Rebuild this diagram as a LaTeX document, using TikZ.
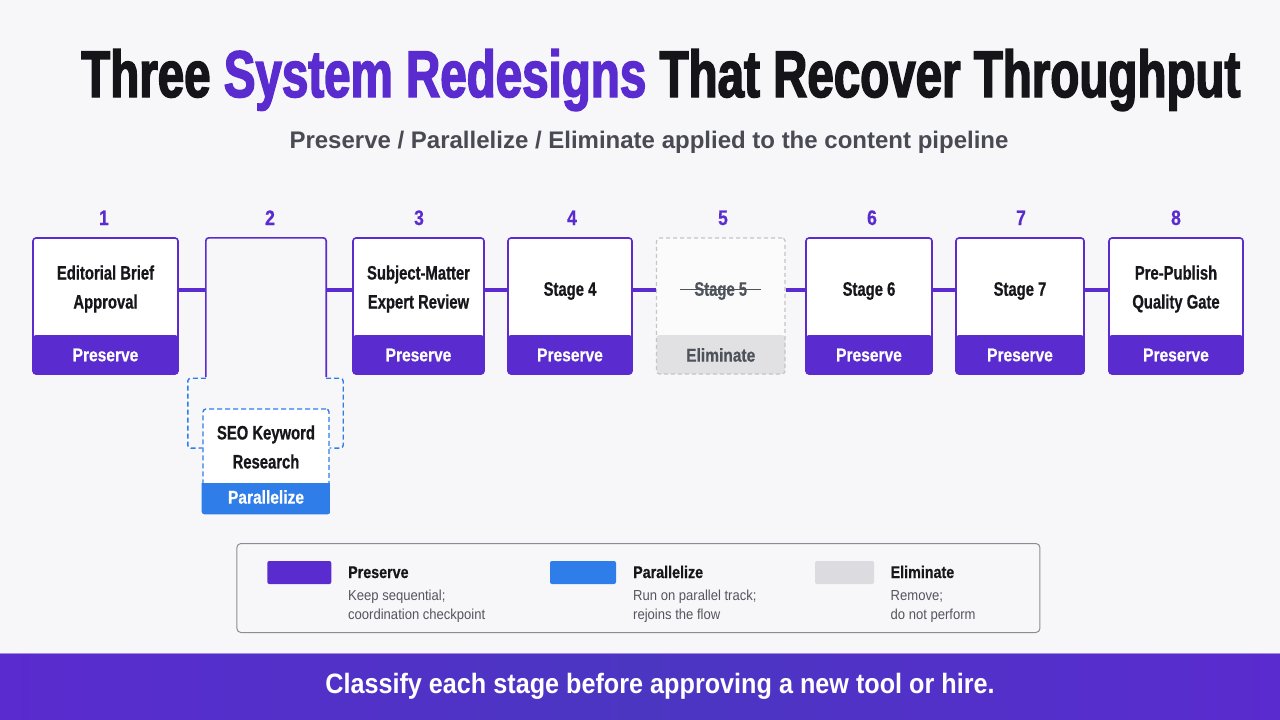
\documentclass[tikz,border=0pt]{standalone}
\usepackage{fontspec}
\setmainfont{Liberation Sans}
\newfontfamily\fT[FakeStretch=0.72,FakeBold=2.2]{Liberation Sans}
\newfontfamily\fB[FakeStretch=0.76,FakeBold=0.6]{Liberation Sans}
\newfontfamily\fC[FakeStretch=0.84,FakeBold=0.5]{Liberation Sans}
\newfontfamily\fD[FakeStretch=0.9]{Liberation Sans}
\definecolor{bg}{HTML}{F7F7F9}
\definecolor{purpleC}{HTML}{5A2BCF}
\definecolor{blueC}{HTML}{2F7DE8}
\definecolor{grayband}{HTML}{E1E1E4}
\definecolor{graydash}{HTML}{C4C4C9}
\definecolor{graytext}{HTML}{4E535B}
\definecolor{titleblack}{HTML}{151519}
\definecolor{subgray}{HTML}{4A4A55}
\definecolor{textdark}{HTML}{17171B}
\definecolor{legborder}{HTML}{8C8C96}
\definecolor{descgray}{HTML}{55555F}
\definecolor{swgray}{HTML}{DCDCE0}
\definecolor{footmid}{HTML}{4B36C2}
\tikzset{
  stagebox/.style={draw=purpleC, line width=1.6pt, fill=white, rounded corners=3pt,
    minimum height=136pt, inner sep=0pt, band=purpleC},
  band/.style={path picture={\fill[#1] ([yshift=39pt]path picture bounding box.south west) rectangle (path picture bounding box.south east);}},
  boxtext/.style={align=center, text=textdark, inner sep=0pt,
    font=\fB\bfseries\fontsize{19.5}{29}\selectfont},
  bandtext/.style={text=white, inner sep=0pt, font=\fC\bfseries\fontsize{18.5}{22}\selectfont},
  numtext/.style={anchor=base, text=purpleC, inner sep=0pt, font=\fC\bfseries\fontsize{21}{24}\selectfont},
  conn/.style={draw=purpleC, line width=3.2pt},
  swatch/.style={minimum height=23pt, rounded corners=2pt, inner sep=0pt},
  leglabel/.style={anchor=base west, inner sep=0pt, text=textdark, font=\fC\bfseries\fontsize{17}{20}\selectfont},
  legdesc/.style={anchor=base west, inner sep=0pt, text=descgray, font=\fD\fontsize{14.5}{18}\selectfont},
  bluedash/.style={draw=blueC, line width=1.4pt, dash pattern=on 5pt off 3pt, rounded corners=3pt},
}
\begin{document}
\begin{tikzpicture}[x=1pt,y=-1pt]
\useasboundingbox (0,0) rectangle (1280,720);
\fill[bg] (0,0) rectangle (1280,720);

% title
\node[anchor=base west, inner sep=0pt, text=titleblack, font=\fT\bfseries\fontsize{66}{70}\selectfont] (title) at (81,97)
  {Three \textcolor{purpleC}{System Redesigns} That Recover Throughput};
\node[anchor=base, inner sep=0pt, text=subgray, font=\bfseries\fontsize{24}{28}\selectfont] (sub) at (649,148)
  {Preserve / Parallelize / Eliminate applied to the content pipeline};

% numbers
\node[numtext] (n1) at (104,225) {1};
\node[numtext] (n2) at (270,225) {2};
\node[numtext] (n3) at (419,225) {3};
\node[numtext] (n4) at (572,225) {4};
\node[numtext] (n5) at (723,225) {5};
\node[numtext] (n6) at (872,225) {6};
\node[numtext] (n7) at (1021,225) {7};
\node[numtext] (n8) at (1176,225) {8};

% stage boxes
\node[stagebox, minimum width=145pt] (s1) at (105.5,306) {};
\node[stagebox, minimum width=131pt] (s3) at (418.5,306) {};
\node[stagebox, minimum width=124pt] (s4) at (570,306) {};
\node[draw=graydash, line width=1.2pt, dash pattern=on 4pt off 3pt, fill=white!55!bg, rounded corners=3pt,
  minimum height=136pt, inner sep=0pt, band=grayband, minimum width=128.5pt] (s5) at (720.75,306) {};
\node[stagebox, minimum width=126pt] (s6) at (869,306) {};
\node[stagebox, minimum width=128pt] (s7) at (1020,306) {};
\node[stagebox, minimum width=134pt] (s8) at (1176,306) {};

% stage 2: parallel bracket
\node[minimum width=120pt, minimum height=140pt, inner sep=0pt] (s2) at (266,308) {};
\node[bluedash, fill=white, minimum width=126pt, minimum height=104pt, inner sep=0pt] (seo) at (266,461) {};
\begin{scope}
\clip[rounded corners=3pt] ([xshift=-0.7pt,yshift=-0.7pt]seo.south west) rectangle ([xshift=0.7pt,yshift=0.7pt]seo.north east);
\fill[blueC] ([xshift=-1pt,yshift=31pt]seo.south west) rectangle ([xshift=1pt,yshift=-1pt]seo.south east);
\end{scope}
\draw[draw=purpleC, line width=1.6pt, rounded corners=3pt]
  ([yshift=1pt]s2.south west) -- (s2.north west) -- (s2.north east) -- ([yshift=1pt]s2.south east);
\draw[bluedash] (s2.south west) -- ++(-18,0) -- ++(0,70) -- ([yshift=13pt]seo.west);
\draw[bluedash] (s2.south east) -- ++(17,0) -- ++(0,70) -- ([yshift=13pt]seo.east);

% connectors
\draw[conn] ([yshift=16pt]s1.east) -- ([yshift=16pt]s1.east -| s2.west);
\draw[conn] ([yshift=16pt]s3.west -| s2.east) -- ([yshift=16pt]s3.west);
\draw[conn] ([yshift=16pt]s3.east) -- ([yshift=16pt]s4.west);
\draw[conn] ([yshift=16pt]s4.east) -- ([yshift=16pt]s5.west);
\draw[conn] ([yshift=16pt]s5.east) -- ([yshift=16pt]s6.west);
\draw[conn] ([yshift=16pt]s6.east) -- ([yshift=16pt]s7.west);
\draw[conn] ([yshift=16pt]s7.east) -- ([yshift=16pt]s8.west);

% box texts
\node[boxtext] (t1) at (105.5,289) {Editorial Brief\\Approval};
\node[boxtext] (t3) at (418.5,289) {Subject-Matter\\Expert Review};
\node[boxtext] (t4) at (570,291) {Stage 4};
\node[boxtext, text=graytext] (t5) at (720.75,291) {Stage 5};
\draw[graytext, line width=1pt] ([xshift=-14pt,yshift=1.5pt]t5.west) -- ([xshift=14pt,yshift=1.5pt]t5.east);
\node[boxtext] (t6) at (869,291) {Stage 6};
\node[boxtext] (t7) at (1020,291) {Stage 7};
\node[boxtext] (t8) at (1176,289) {Pre-Publish\\Quality Gate};
\node[boxtext] (tseo) at (266,447) {SEO Keyword\\Research};

% band texts
\node[bandtext] (b1) at (105.5,355) {Preserve};
\node[bandtext] (b3) at (418.5,355) {Preserve};
\node[bandtext] (b4) at (570,355) {Preserve};
\node[bandtext, text=graytext] (b5) at (720.75,355) {Eliminate};
\node[bandtext] (b6) at (869,355) {Preserve};
\node[bandtext] (b7) at (1020,355) {Preserve};
\node[bandtext] (b8) at (1176,355) {Preserve};
\node[bandtext] (bseo) at (266,497) {Parallelize};

% legend
\node[draw=legborder, line width=1pt, rounded corners=4pt, fill=bg, minimum width=803pt, minimum height=89pt, inner sep=0pt] (legend) at (638.4,588) {};
\node[swatch, fill=purpleC, minimum width=64pt] (sw1) at (299.3,572.5) {};
\node[swatch, fill=blueC, minimum width=66pt] (sw2) at (583,572.5) {};
\node[swatch, fill=swgray, minimum width=59pt] (sw3) at (844.5,572.5) {};
\node[leglabel] (l1) at (348,578) {Preserve};
\node[legdesc] (d1a) at (348,600.5) {Keep sequential;};
\node[legdesc] (d1b) at (348,619) {coordination checkpoint};
\node[leglabel] (l2) at (633,578) {Parallelize};
\node[legdesc] (d2a) at (633,600.5) {Run on parallel track;};
\node[legdesc] (d2b) at (633,619) {rejoins the flow};
\node[leglabel] (l3) at (890.5,578) {Eliminate};
\node[legdesc] (d3a) at (890.5,600.5) {Remove;};
\node[legdesc] (d3b) at (890.5,619) {do not perform};

% footer
\node[anchor=north west, minimum width=1280pt, minimum height=67pt, inner sep=0pt,
  left color=purpleC, right color=purpleC, middle color=footmid] (footer) at (0,653) {};
\draw[purpleC!55!white, line width=1pt] (footer.north west) -- (footer.north east);
\node[anchor=base, inner sep=0pt, text=white, font=\fD\bfseries\fontsize{28}{32}\selectfont] (foottext) at (660,693)
  {Classify each stage before approving a new tool or hire.};
\end{tikzpicture}
\end{document}
